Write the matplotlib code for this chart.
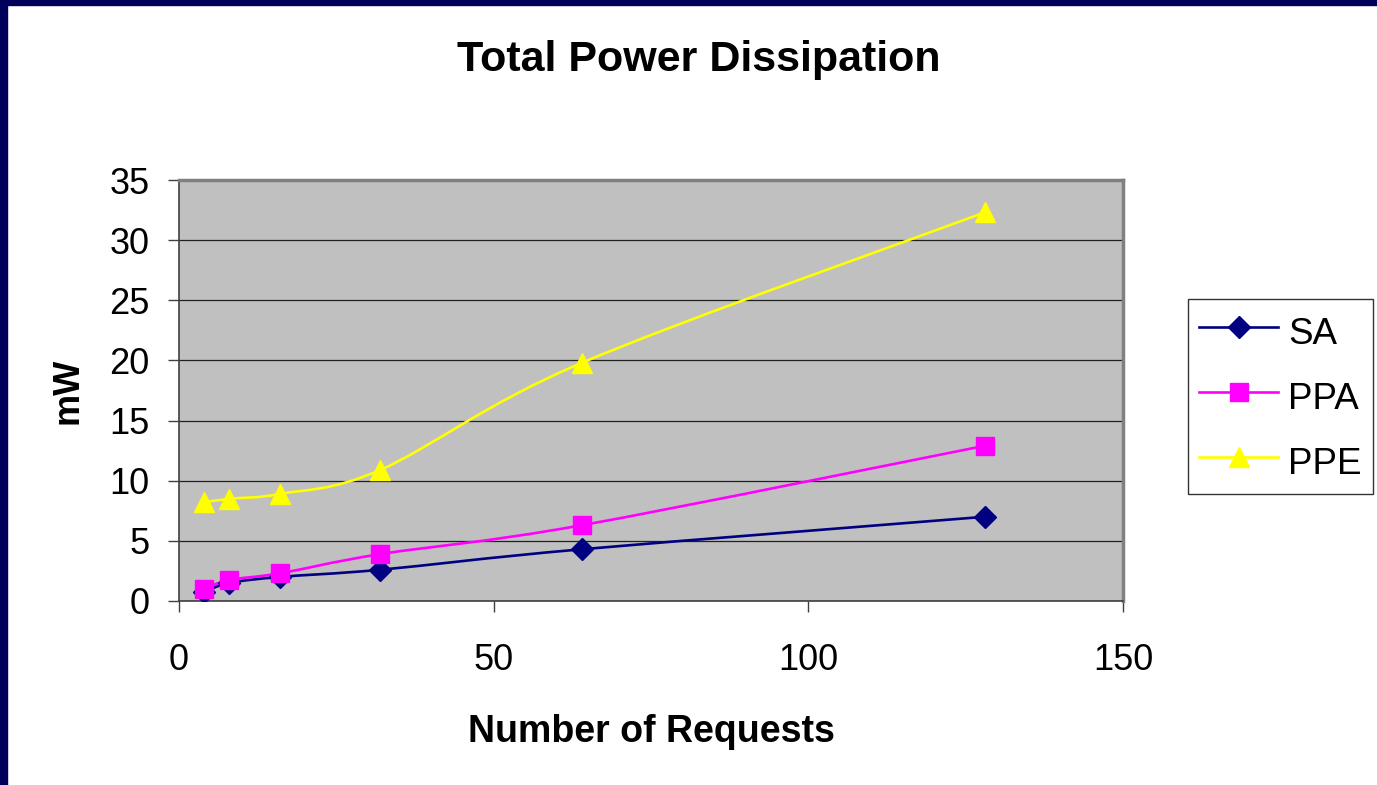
"""
plot.py
Total power dissipation vs. number of requests (SA / PPA / PPE).
Writes out.png.
"""

import matplotlib
matplotlib.use("Agg")
import matplotlib.pyplot as plt
from matplotlib.lines import Line2D
from matplotlib.patches import PathPatch, Rectangle
from matplotlib.path import Path
import numpy as np

plt.rcParams.update({
    "font.family": ["Liberation Sans", "DejaVu Sans"],
    "figure.dpi": 100, "savefig.dpi": 100,
})

# Data
REQUESTS = [4, 8, 16, 32, 64, 128]
SA = [0.75, 1.5, 2.0, 2.6, 4.3, 7.0]
PPA = [1.0, 1.75, 2.3, 3.9, 6.3, 12.9]
PPE = [8.2, 8.5, 8.9, 10.9, 19.8, 32.3]

SERIES = [
    ("SA", SA, "#000080", "D", 11),
    ("PPA", PPA, "#FF00FF", "s", 13),
    ("PPE", PPE, "#FFFF00", "^", 15),
]


def smooth_path(x, y):
    """Excel-style smoothed line: cubic Bezier through the points
    (Catmull-Rom control points). Only changes how the line is drawn."""
    p = np.column_stack([x, y]).astype(float)
    ext = np.vstack([p[0], p, p[-1]])
    verts, codes = [p[0]], [Path.MOVETO]
    for i in range(len(p) - 1):
        c1 = ext[i + 1] + (ext[i + 2] - ext[i]) / 6
        c2 = ext[i + 2] - (ext[i + 3] - ext[i + 1]) / 6
        verts += [c1, c2, p[i + 1]]
        codes += [Path.CURVE4] * 3
    return Path(verts, codes)


W, H = 1377, 785
fig = plt.figure(figsize=(W / 100, H / 100), facecolor="white")
ax = fig.add_axes([179 / W, 1 - 601 / H, (1123 - 179) / W, (601 - 180) / H])
ax.set_facecolor("#C0C0C0")

handles = []
for name, vals, col, mk, ms in SERIES:
    ax.add_patch(PathPatch(smooth_path(REQUESTS, vals), fc="none", ec=col,
                           lw=1.9, zorder=3, capstyle="round"))
    ax.plot(REQUESTS, vals, ls="none", marker=mk, ms=ms, mec=col, mfc=col,
            zorder=4)
    handles.append(Line2D([], [], color=col, lw=1.9, marker=mk, ms=ms,
                          mec=col, mfc=col, label=name))

ax.set_xlim(0, 150)
ax.set_ylim(0, 35)
ax.set_xticks([0, 50, 100, 150])
ax.set_yticks(range(0, 36, 5))
ax.yaxis.grid(True, color="#202020", lw=0.9)
ax.set_axisbelow(True)
ax.tick_params(labelsize=26, direction="out", length=8, width=1,
               color="#404040")
ax.tick_params(axis="y", pad=13)
ax.tick_params(axis="x", pad=22)

for side in ("top", "right"):
    ax.spines[side].set_color("#808080")
    ax.spines[side].set_linewidth(2.5)
for side in ("left", "bottom"):
    ax.spines[side].set_color("#404040")
    ax.spines[side].set_linewidth(1.2)

fig.text(699 / W, 1 - 60 / H, "Total Power Dissipation", fontsize=31,
         fontweight="bold", ha="center", va="center")
ax.set_xlabel("Number of Requests", fontsize=27, fontweight="bold", labelpad=26)
ax.set_ylabel("mW", fontsize=26, fontweight="bold", labelpad=17)

leg = fig.legend(handles=handles, loc="upper left",
                 bbox_to_anchor=(1188 / W, 1 - 299 / H),
                 fontsize=26.5, frameon=True, fancybox=False, edgecolor="black",
                 handlelength=2.15, handleheight=1.4, handletextpad=0.27,
                 borderpad=0.3, labelspacing=0.62, borderaxespad=0)
leg.get_frame().set_linewidth(1.0)

# navy slide border on the left and top edges
fig.patches.append(Rectangle((0, 0), 7 / W, 1, transform=fig.transFigure,
                             color="#00005A", zorder=10))
fig.patches.append(Rectangle((0, 1 - 5 / H), 1, 5 / H, transform=fig.transFigure,
                             color="#00005A", zorder=10))

fig.savefig("out.png", facecolor=fig.get_facecolor())
